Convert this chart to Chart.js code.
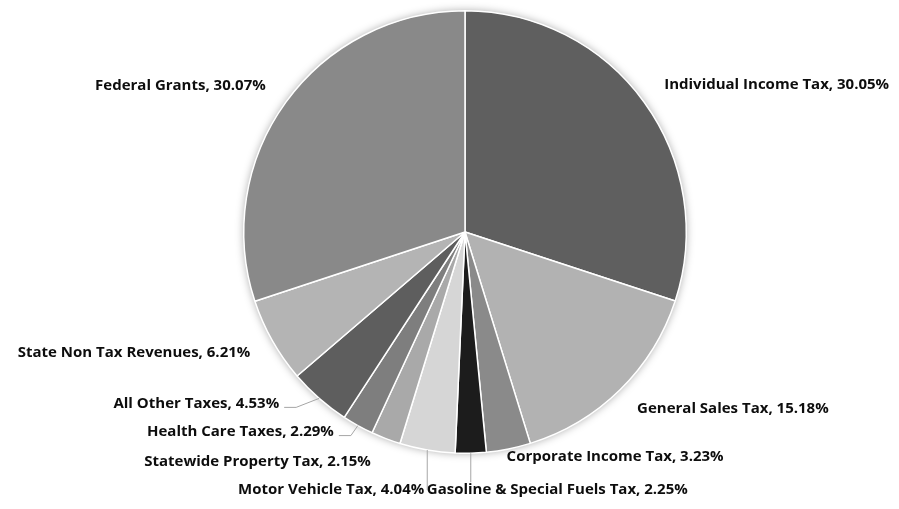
<!DOCTYPE html>
<html lang="en">
<head>
    <meta charset="UTF-8">
    <title>Revenue Sources</title>
    <style>
        html, body {
            margin: 0;
            padding: 0;
            background-color: #ffffff;
        }

        .chart-box {
            width: 899px;
            height: 509px;
        }
    </style>
</head>
<body>
    <div class="chart-box">
        <canvas id="revenuePie"></canvas>
    </div>

    <script src="https://cdn.jsdelivr.net/npm/chart.js"></script>
    <script>
        // Data (share of total revenue, %)
        var categories = [
            'Individual Income Tax',
            'General Sales Tax',
            'Corporate Income Tax',
            'Gasoline & Special Fuels Tax',
            'Motor Vehicle Tax',
            'Statewide Property Tax',
            'Health Care Taxes',
            'All Other Taxes',
            'State Non Tax Revenues',
            'Federal Grants'
        ];
        var shares = [30.05, 15.18, 3.23, 2.25, 4.04, 2.15, 2.29, 4.53, 6.21, 30.07];

        var sliceColors = ['#5f5f5f', '#b2b2b2', '#8a8a8a', '#1c1c1c', '#d6d6d6',
                           '#a9a9a9', '#7e7e7e', '#5e5e5e', '#b4b4b4', '#898989'];

        // Where each label sits, relative to the middle of its slice's outer edge
        var labelPlacement = [
            { dx: 20,  dy: -17, align: 'left',  leader: 'none' },
            { dx: 17,  dy: 19,  align: 'left',  leader: 'none' },
            { dx: -2,  dy: 8,   align: 'left',  leader: 'none' },
            { dx: -44, dy: 37,  align: 'left',  leader: 'vertical' },
            { dx: -3,  dy: 40,  align: 'right', leader: 'vertical' },
            { dx: -15, dy: 23,  align: 'right', leader: 'none' },
            { dx: -24, dy: 6,   align: 'right', leader: 'elbow' },
            { dx: -40, dy: 5,   align: 'right', leader: 'elbow' },
            { dx: -22, dy: 12,  align: 'right', leader: 'none' },
            { dx: -20, dy: -17, align: 'right', leader: 'none' }
        ];

        // soft shadow under the pie
        var pieShadow = {
            id: 'pieShadow',
            beforeDatasetsDraw: function(chart) {
                var arc = chart.getDatasetMeta(0).data[0];
                if (!arc) return;
                var ctx = chart.ctx;
                ctx.save();
                ctx.shadowColor = 'rgba(0, 0, 0, 0.35)';
                ctx.shadowBlur = 9;
                ctx.fillStyle = '#ffffff';
                ctx.beginPath();
                ctx.arc(arc.x, arc.y, arc.outerRadius, 0, Math.PI * 2);
                ctx.fill();
                ctx.restore();
            }
        };

        // outside labels with leader lines
        var outsideLabels = {
            id: 'outsideLabels',
            afterDatasetsDraw: function(chart) {
                var ctx = chart.ctx;
                var arcs = chart.getDatasetMeta(0).data;
                ctx.save();
                ctx.font = 'bold 15px "Open Sans", sans-serif';
                ctx.textBaseline = 'middle';
                ctx.fillStyle = '#0d0d0d';
                ctx.strokeStyle = '#a6a6a6';
                ctx.lineWidth = 1;

                arcs.forEach(function(arc, i) {
                    var mid = (arc.startAngle + arc.endAngle) / 2;
                    var ex = arc.x + Math.cos(mid) * arc.outerRadius;
                    var ey = arc.y + Math.sin(mid) * arc.outerRadius;
                    var p = labelPlacement[i];
                    var tx = ex + p.dx;
                    var ty = ey + p.dy;
                    var text = categories[i] + ', ' + shares[i].toFixed(2) + '%';

                    ctx.beginPath();
                    if (p.leader === 'vertical') {
                        var endY = p.align === 'right' ? ty : ty - 8;
                        ctx.moveTo(ex, ey);
                        ctx.lineTo(ex, endY);
                        ctx.stroke();
                    } else if (p.leader === 'elbow') {
                        var hx = tx + 5;
                        ctx.moveTo(ex, ey);
                        ctx.lineTo(hx + 12, ty + 4);
                        ctx.lineTo(hx, ty + 4);
                        ctx.stroke();
                    }

                    ctx.textAlign = p.align;
                    ctx.fillText(text, tx, ty);
                });
                ctx.restore();
            }
        };

        var config = {
            type: 'pie',
            data: {
                labels: categories,
                datasets: [{
                    data: shares,
                    backgroundColor: sliceColors,
                    borderColor: '#ffffff',
                    borderWidth: 1.5
                }]
            },
            options: {
                responsive: true,
                maintainAspectRatio: false,
                animation: false,
                layout: {
                    padding: { top: 10, bottom: 55, left: 243, right: 212 }
                },
                plugins: {
                    legend: { display: false },
                    tooltip: { enabled: false }
                }
            },
            plugins: [pieShadow, outsideLabels]
        };

        var ctx = document.getElementById('revenuePie').getContext('2d');
        new Chart(ctx, config);
    </script>
</body>
</html>
